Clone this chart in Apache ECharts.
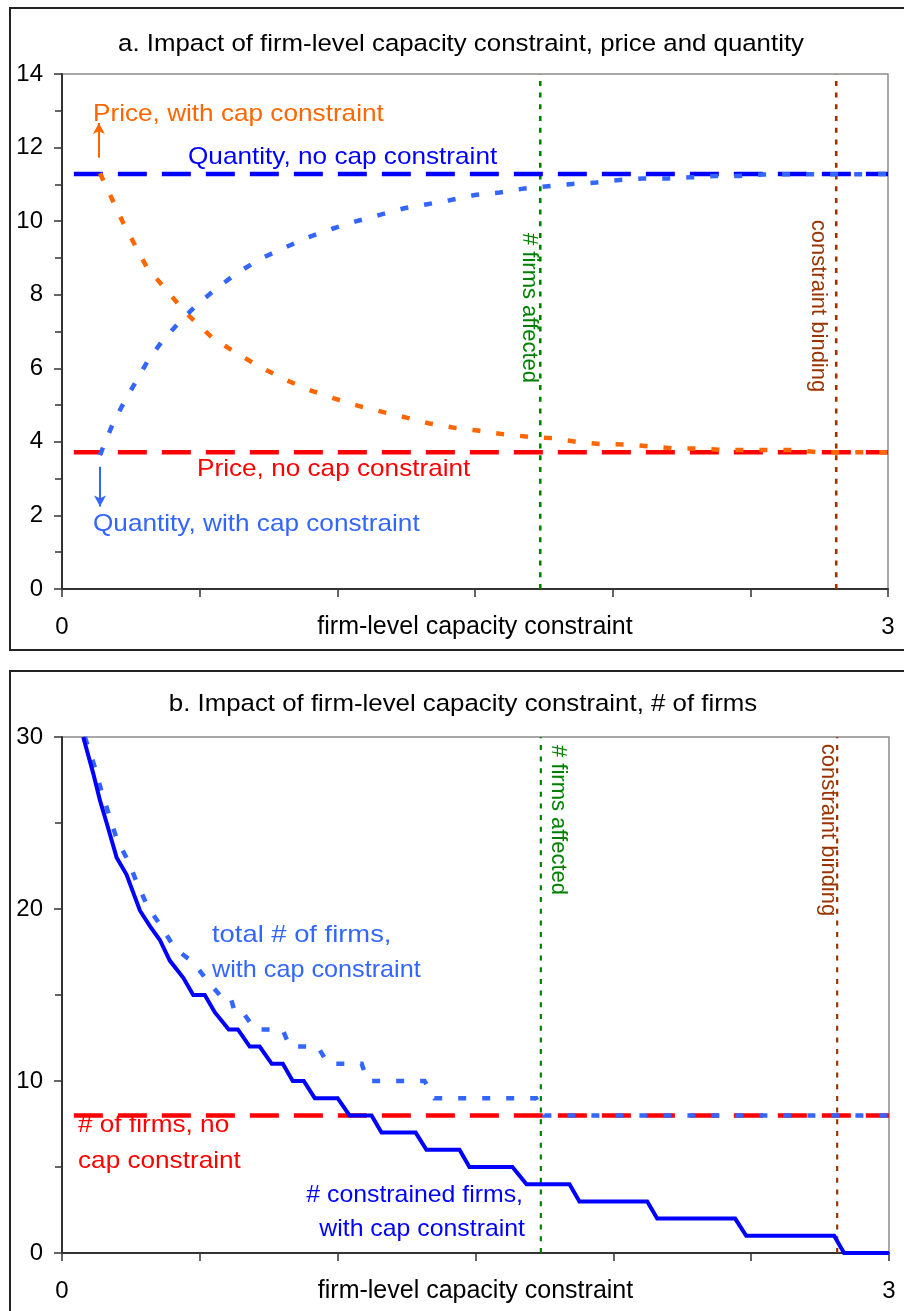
<!DOCTYPE html>
<html>
<head>
<meta charset="utf-8">
<script src="https://cdn.jsdelivr.net/npm/echarts@6/dist/echarts.min.js"></script>
<style>
html,body{margin:0;padding:0;background:#fff;}
#chart{width:904px;height:1311px;}
</style>
</head>
<body>
<div id="chart"></div>
<script>
// ---------- data ----------
const xLabelValues = [0, 3];
const priceNoCap = 3.72;
const qtyNoCap = 11.28;
const firmsNoCap = 8;
const lineStartX = 0.043;
const firmsAffectedX = 1.737;
const constraintBindingX = 2.812;

const priceWithCap = [
  [0.138,11.3],[0.223,9.94],[0.307,8.76],[0.368,8.22],[0.452,7.49],[0.549,6.81],
  [0.634,6.41],[0.719,6.04],[0.808,5.70],[0.899,5.41],[0.988,5.18],[1.076,4.98],
  [1.16,4.82],[1.251,4.66],[1.335,4.50],[1.426,4.38],[1.517,4.30],[1.601,4.21],
  [1.694,4.14],[1.783,4.10],[1.869,4.00],[1.957,3.94],[2.044,3.93],[2.133,3.88],
  [2.221,3.82],[2.306,3.82],[2.394,3.78],[2.483,3.78],[2.569,3.78],[2.658,3.78],
  [2.744,3.72],[3,3.72]
];
const qtyWithCap = [
  [0.138,3.64],[0.18,4.41],[0.217,4.96],[0.261,5.54],[0.31,6.18],[0.362,6.72],
  [0.422,7.22],[0.489,7.72],[0.561,8.17],[0.634,8.58],[0.719,8.97],[0.803,9.26],
  [0.894,9.56],[0.985,9.80],[1.07,10.0],[1.154,10.17],[1.243,10.35],[1.327,10.46],
  [1.408,10.57],[1.499,10.71],[1.59,10.78],[1.681,10.89],[1.765,10.95],[1.854,11.01],
  [1.941,11.05],[2.025,11.12],[2.11,11.16],[2.2,11.16],[2.286,11.19],[2.376,11.23],
  [2.461,11.23],[2.546,11.27],[3,11.28]
];
const totalFirmsWithCap = [
  [0.083,30],[0.12,28.2],[0.144,26.8],[0.174,25.3],[0.2,24],[0.24,22.8],[0.27,21.6],
  [0.309,20.2],[0.361,18.95],[0.41,17.7],[0.476,16.9],[0.524,15.9],[0.572,15],[0.609,15],
  [0.627,14],[0.656,14],[0.70,13],[0.80,13],[0.826,12],[0.928,12],[0.965,11],[1.087,11],
  [1.109,10],[1.315,10],[1.351,9],[1.72,9],[1.75,8],[3,8]
];
const constrainedFirms = [
  [0.077,30],[0.113,27.9],[0.138,26.3],[0.162,25],[0.198,23],[0.234,22],[0.283,19.9],
  [0.319,19],[0.355,18.2],[0.391,17],[0.44,16],[0.476,15],[0.518,15],[0.554,14],
  [0.605,13],[0.638,13],[0.681,12],[0.717,12],[0.761,11],[0.801,11],[0.837,10],
  [0.877,10],[0.917,9],[1.0,9],[1.043,8],[1.123,8],[1.159,7],[1.283,7],[1.322,6],
  [1.442,6],[1.478,5],[1.634,5],[1.685,4],[1.841,4],[1.877,3],[2.123,3],[2.159,2],
  [2.442,2],[2.482,1],[2.801,1],[2.837,0],[3,0]
];
const priceArrow = [[0.134,11.72],[0.134,12.67]];
const qtyArrow = [[0.138,3.32],[0.138,2.24]];

// ---------- styles ----------
const FONT = '"Liberation Sans", Arial, sans-serif';
const C_ORANGE = '#FF6600', C_LBLUE = '#3366FF', C_BLUE = '#0000FF',
      C_RED = '#FF0000', C_GREEN = '#008000', C_BROWN = '#993300';
const DASH = [29, 15];
const DOT = [8, 16];
const VDOT = [5, 6.7];

function xAxisCfg(gi) {
  return {
    type: 'value', gridIndex: gi, min: 0, max: 3, interval: 0.5,
    name: 'firm-level capacity constraint', nameLocation: 'middle', nameGap: 26,
    nameMoveOverlap: false,
    nameTextStyle: { fontFamily: FONT, fontSize: 25, color: '#000', verticalAlign: 'top' },
    axisLine: { show: true, onZero: false, lineStyle: { color: '#333', width: 2 } },
    axisTick: { show: true, length: 8, lineStyle: { color: '#333', width: 1.5 } },
    axisLabel: { margin: 26, fontFamily: FONT, fontSize: 24, color: '#000',
      formatter: v => xLabelValues.indexOf(v) >= 0 ? String(v) : '' },
    splitLine: { show: false }
  };
}
function yAxisCfg(gi, max, interval) {
  return {
    type: 'value', gridIndex: gi, min: 0, max: max, interval: interval,
    axisLine: { show: true, onZero: false, lineStyle: { color: '#333', width: 2 } },
    axisTick: { show: true, length: 8, lineStyle: { color: '#333', width: 1.5 } },
    minorTick: { show: true, splitNumber: 2, length: 7, lineStyle: { color: '#333', width: 1.5 } },
    axisLabel: { margin: 19, fontFamily: FONT, fontSize: 24, color: '#000' },
    splitLine: { show: false }, minorSplitLine: { show: false }
  };
}
function lineSeries(gi, data, color, width, type, z) {
  return {
    type: 'line', xAxisIndex: gi, yAxisIndex: gi, data: data,
    showSymbol: false, symbol: 'none', silent: true, animation: false, z: z || 2,
    lineStyle: { color: color, width: width, type: type, cap: 'butt', join: 'miter' }
  };
}
function arrowMark(color, pts) {
  return {
    silent: true, animation: false, symbol: ['none', 'arrow'], symbolSize: [9, 11],
    label: { show: false },
    lineStyle: { color: color, width: 2, type: 'solid' },
    data: [[{ coord: pts[0] }, { coord: pts[1] }]]
  };
}
function txt(x, y, text, color, opts) {
  opts = opts || {};
  return {
    type: 'text', x: x, y: y, z: 100,
    scaleX: opts.scaleX != null ? opts.scaleX : 1.09,
    rotation: opts.rotation || 0,
    style: {
      text: text, fill: color, font: (opts.size || 24) + 'px ' + FONT,
      align: opts.align || 'left', textAlign: opts.align || 'left',
      verticalAlign: 'middle', textVerticalAlign: 'middle'
    }
  };
}

const s0 = [
  lineSeries(0, [[firmsAffectedX,0],[firmsAffectedX,14]], C_GREEN, 2.6, VDOT, 1),
  lineSeries(0, [[constraintBindingX,0],[constraintBindingX,14]], C_BROWN, 2.6, VDOT, 1),
  lineSeries(0, [[lineStartX,qtyNoCap],[3,qtyNoCap]], C_BLUE, 4.5, DASH, 2),
  lineSeries(0, [[lineStartX,priceNoCap],[3,priceNoCap]], C_RED, 4.5, DASH, 2),
  Object.assign(lineSeries(0, priceWithCap, C_ORANGE, 4.5, DOT, 3), { markLine: arrowMark(C_ORANGE, priceArrow) }),
  Object.assign(lineSeries(0, qtyWithCap, C_LBLUE, 4.5, DOT, 3), { markLine: arrowMark(C_LBLUE, qtyArrow) })
];
const s1 = [
  lineSeries(1, [[firmsAffectedX,0],[firmsAffectedX,30]], C_GREEN, 2.2, VDOT, 1),
  lineSeries(1, [[constraintBindingX,0],[constraintBindingX,30]], C_BROWN, 2.2, VDOT, 1),
  lineSeries(1, [[lineStartX,firmsNoCap],[3,firmsNoCap]], C_RED, 4.5, DASH, 2),
  lineSeries(1, totalFirmsWithCap, C_LBLUE, 4.5, DOT, 3),
  lineSeries(1, constrainedFirms, C_BLUE, 4, 'solid', 4)
];

const chart = echarts.init(document.getElementById('chart'), null, { renderer: 'canvas' });
chart.setOption({
  backgroundColor: '#fff',
  animation: false,
  grid: [
    { left: 62, top: 74, width: 826, height: 515, show: true, borderColor: '#8c8c8c', borderWidth: 1.5, backgroundColor: 'transparent', outerBoundsMode: 'none', containLabel: false },
    { left: 62, top: 737, width: 827, height: 516, show: true, borderColor: '#8c8c8c', borderWidth: 1.5, backgroundColor: 'transparent', outerBoundsMode: 'none', containLabel: false }
  ],
  xAxis: [xAxisCfg(0), xAxisCfg(1)],
  yAxis: [yAxisCfg(0, 14, 2), yAxisCfg(1, 30, 10)],
  series: s0.concat(s1),
  graphic: [
    { type: 'rect', z: 0, shape: { x: 10, y: 8, width: 960, height: 642 }, style: { fill: 'none', stroke: '#222', lineWidth: 2 } },
    { type: 'rect', z: 0, shape: { x: 10, y: 671, width: 960, height: 700 }, style: { fill: 'none', stroke: '#222', lineWidth: 2 } },
    txt(461, 44, 'a. Impact of firm-level capacity constraint, price and quantity', '#000', { align: 'center', size: 23.7 }),
    txt(93, 114, 'Price, with cap constraint', C_ORANGE),
    txt(188, 157, 'Quantity, no cap constraint', C_BLUE),
    txt(197, 469, 'Price, no cap constraint', C_RED),
    txt(93, 524, 'Quantity, with cap constraint', C_LBLUE),
    txt(529, 308, '# firms affected', C_GREEN, { align: 'center', rotation: -Math.PI / 2, scaleX: 1, size: 22 }),
    txt(818, 306, 'constraint binding', C_BROWN, { align: 'center', rotation: -Math.PI / 2, scaleX: 1, size: 22 }),
    txt(463, 704, 'b. Impact of firm-level capacity constraint, # of firms', '#000', { align: 'center', size: 23.7 }),
    txt(212, 935, 'total # of firms,', C_LBLUE, { scaleX: 1.14 }),
    txt(212, 970, 'with cap constraint', C_LBLUE, { scaleX: 1.05 }),
    txt(78, 1125, '# of firms, no', C_RED),
    txt(78, 1161, 'cap constraint', C_RED),
    txt(523, 1195, '# constrained firms,', C_BLUE, { align: 'right', scaleX: 1.035 }),
    txt(525, 1229, 'with cap constraint', C_BLUE, { align: 'right', scaleX: 1.035 }),
    txt(558, 820, '# firms affected', C_GREEN, { align: 'center', rotation: -Math.PI / 2, scaleX: 1, size: 22 }),
    txt(828, 830, 'constraint binding', C_BROWN, { align: 'center', rotation: -Math.PI / 2, scaleX: 1, size: 22 })
  ]
});
</script>
</body>
</html>
